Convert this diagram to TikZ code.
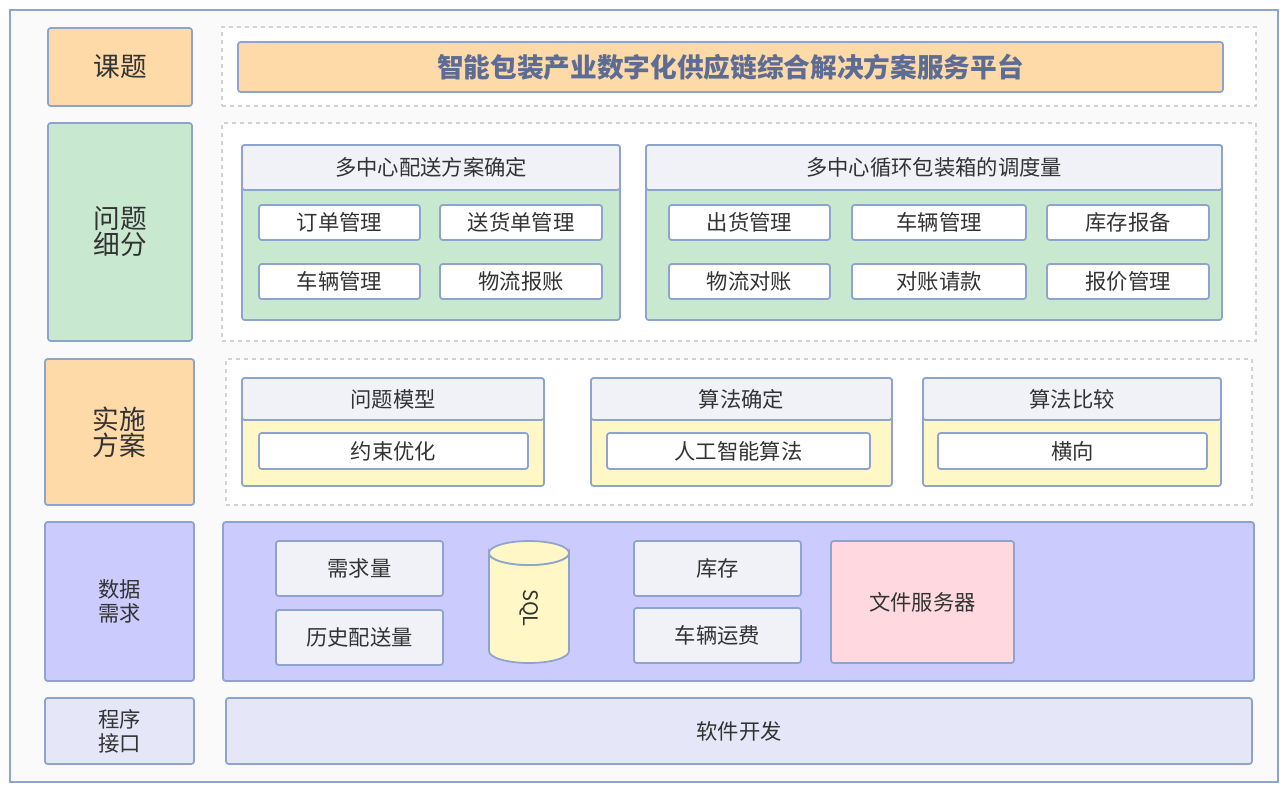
\documentclass[tikz,border=0pt]{standalone}
\usepackage{fontspec}
\setmainfont{Noto Sans CJK SC}
\usetikzlibrary{fit,shapes.geometric}
\definecolor{bd}{HTML}{8EA3CE}
\definecolor{org}{HTML}{FDDAA8}
\definecolor{grn}{HTML}{C8E8D0}
\definecolor{hdr}{HTML}{F1F2F7}
\definecolor{ylw}{HTML}{FFF8C6}
\definecolor{pur}{HTML}{CBCBFD}
\definecolor{pnk}{HTML}{FFD9DF}
\definecolor{lav}{HTML}{E5E6F8}
\definecolor{txt}{HTML}{333333}
\definecolor{ttl}{HTML}{5C6C94}
\tikzset{
 bx/.style={draw=bd,line width=1.3pt,rounded corners=2pt,inner sep=0pt,text=txt},
 dbox/.style={draw=gray!35,dashed,line width=1.2pt,inner sep=0pt},
 item/.style={bx,fill=white},
}
\newcommand{\bx}[7]{\node[#6,fit={(#2,#3)(#4,#5)}] (#1) {}; \node[text=txt,font=\fontsize{16}{18}\selectfont,align=center] at (#1.center) {#7};}
\begin{document}
\begin{tikzpicture}[x=0.75pt,y=-0.75pt]
\useasboundingbox (0,0) rectangle (1286,790);
\node[draw=bd,fill=gray!4,line width=1.3pt,inner sep=0pt,fit={(10,10)(1278,782)}] (outer) {};
% left
\bx{l1}{48}{28}{192}{106}{bx,fill=org}{\fontsize{20}{24}\selectfont 课题}
\bx{l2}{48}{123}{192}{341}{bx,fill=grn}{\fontsize{20}{26}\selectfont 问题\\\fontsize{20}{26}\selectfont 细分}
\bx{l3}{45}{359}{194}{505}{bx,fill=org}{\fontsize{20}{26}\selectfont 实施\\\fontsize{20}{26}\selectfont 方案}
\bx{l4}{45}{522}{194}{681}{bx,fill=pur}{数据\\需求}
\bx{l5}{45}{698}{194}{764}{bx,fill=lav}{程序\\接口}
% dashed
\node[dbox,fill=white,fit={(222,27)(1256,106)}] (d1) {};
\node[dbox,fill=white,fit={(222,123)(1256,341)}] (d2) {};
\node[dbox,fill=white,fit={(226,359)(1252,505)}] (d3) {};
\node[bx,fill=org,fit={(238,42)(1223,92)}] (title) {};
\node[text=ttl,font=\fontsize{20}{22}\selectfont\bfseries] at (title.center) {智能包装产业数字化供应链综合解决方案服务平台};
% group1
\node[bx,fill=grn,fit={(242,145)(620,320)}] (g1) {};
\bx{g1h}{242}{145}{620}{190}{bx,fill=hdr}{多中心配送方案确定}
\bx{a1}{259}{205}{420}{240}{item}{订单管理}
\bx{a2}{440}{205}{602}{240}{item}{送货单管理}
\bx{a3}{259}{264}{420}{299}{item}{车辆管理}
\bx{a4}{440}{264}{602}{299}{item}{物流报账}
% group2
\node[bx,fill=grn,fit={(646,145)(1222,320)}] (g2) {};
\bx{g2h}{646}{145}{1222}{190}{bx,fill=hdr}{多中心循环包装箱的调度量}
\bx{b1}{669}{205}{830}{240}{item}{出货管理}
\bx{b2}{852}{205}{1026}{240}{item}{车辆管理}
\bx{b3}{1047}{205}{1209}{240}{item}{库存报备}
\bx{b4}{669}{264}{830}{299}{item}{物流对账}
\bx{b5}{852}{264}{1026}{299}{item}{对账请款}
\bx{b6}{1047}{264}{1209}{299}{item}{报价管理}
% row3
\node[bx,fill=ylw,fit={(242,378)(544,486)}] (g3) {};
\bx{g3h}{242}{378}{544}{420}{bx,fill=hdr}{问题模型}
\bx{c1}{259}{433}{528}{469}{item}{约束优化}
\node[bx,fill=ylw,fit={(591,378)(892,486)}] (g4) {};
\bx{g4h}{591}{378}{892}{420}{bx,fill=hdr}{算法确定}
\bx{c2}{607}{433}{870}{469}{item}{人工智能算法}
\node[bx,fill=ylw,fit={(923,378)(1221,486)}] (g5) {};
\bx{g5h}{923}{378}{1221}{420}{bx,fill=hdr}{算法比较}
\bx{c3}{938}{433}{1207}{469}{item}{横向}
% data
\node[bx,fill=pur,fit={(223,522)(1254,681)}] (data) {};
\bx{e1}{276}{541}{443}{596}{bx,fill=hdr}{需求量}
\bx{e2}{276}{610}{443}{665}{bx,fill=hdr}{历史配送量}
\bx{e3}{634}{541}{801}{596}{bx,fill=hdr}{库存}
\bx{e4}{634}{608}{801}{663}{bx,fill=hdr}{车辆运费}
\bx{e5}{831}{541}{1014}{663}{bx,fill=pnk}{文件服务器}
% cylinder
\draw[draw=bd,line width=1.3pt,fill=ylw] (489,553) arc[start angle=180,end angle=360,x radius=40,y radius=-12] -- (569,651) arc[start angle=0,end angle=-180,x radius=40,y radius=-12] -- cycle;
\draw[draw=bd,line width=1.3pt,fill=ylw] (529,553) ellipse[x radius=40,y radius=-12];
\node[rotate=-90,text=txt,font=\fontsize{15}{16}\selectfont] (sql) at (529,608) {SQL};
% software
\bx{sw}{226}{698}{1252}{764}{bx,fill=lav}{软件开发}
\end{tikzpicture}
\end{document}
